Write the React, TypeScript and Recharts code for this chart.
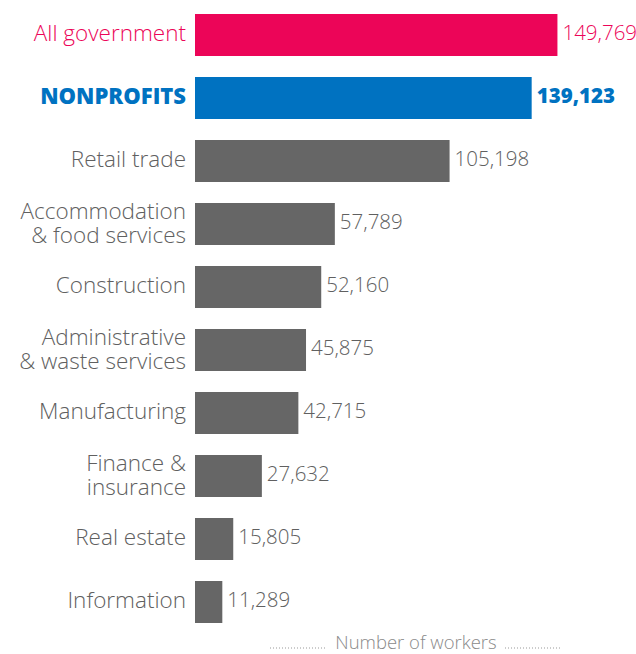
import { Bar, BarChart, Cell, LabelList, XAxis, YAxis } from "recharts";

const categories = [
  "All government",
  "NONPROFITS",
  "Retail trade",
  "Accommodation\n& food services",
  "Construction",
  "Administrative\n& waste services",
  "Manufacturing",
  "Finance &\ninsurance",
  "Real estate",
  "Information",
];

const workers = [149769, 139123, 105198, 57789, 52160, 45875, 42715, 27632, 15805, 11289];

const xDomain = [0, 150000];

const pink = "#ec0558";
const blue = "#0072c1";
const grey = "#666666";
const labelGrey = "#606060";
const catFont = "'Open Sans', 'Noto Sans', sans-serif";
const numFont = "'Open Sans', 'Noto Sans', sans-serif";

const data = categories.map((name, i) => ({ name, value: workers[i] }));

function rowColor(i: number) {
  if (i === 0) return pink;
  if (i === 1) return blue;
  return grey;
}

function CategoryTick(props: any) {
  const { x, y, payload, index } = props;
  const lines = String(payload.value).split("\n");
  const color = index === 0 ? pink : index === 1 ? blue : labelGrey;
  const bold = index === 1;
  if (lines.length === 1) {
    return (
      <text
        x={x - 1}
        y={y + 6.5}
        textAnchor="end"
        fill={color}
        fontFamily={catFont}
        fontSize={bold ? 22 : 22.5}
        fontWeight={bold ? 800 : 300}
      >
        {lines[0]}
      </text>
    );
  }
  return (
    <text x={x - 1} y={y} textAnchor="end" fill={color} fontFamily={catFont} fontSize={22.5} fontWeight={300}>
      <tspan x={x - 1} dy={-5}>
        {lines[0]}
      </tspan>
      <tspan x={x - 1} dy={24}>
        {lines[1]}
      </tspan>
    </text>
  );
}

function ValueLabel(props: any) {
  const { x, y, width, height, value, index } = props;
  const color = index === 0 ? pink : index === 1 ? blue : labelGrey;
  return (
    <text
      x={x + width + 5}
      y={y + height / 2 + 5}
      fill={color}
      fontFamily={numFont}
      fontSize={20.5}
      fontWeight={index === 1 ? 800 : 300}
    >
      {Number(value).toLocaleString("en-US")}
    </text>
  );
}

function AxisCaption(props: any) {
  const { viewBox } = props;
  const base = viewBox.y + viewBox.height;
  const cx = 416;
  return (
    <g>
      <line x1={270} x2={327} y1={base - 6} y2={base - 6} stroke="#999" strokeWidth={1} strokeDasharray="1 2" />
      <text x={cx} y={base - 5.5} textAnchor="middle" fill="#8a8a8a" fontFamily={catFont} fontSize={18.5} fontWeight={300}>
        Number of workers
      </text>
      <line x1={505} x2={562} y1={base - 6} y2={base - 6} stroke="#999" strokeWidth={1} strokeDasharray="1 2" />
    </g>
  );
}

export default function App() {
  return (
    <div style={{ position: "absolute", left: 0, top: 0, width: 636, height: 654, background: "#fff" }}>
      <BarChart
        width={636}
        height={654}
        data={data}
        layout="vertical"
        margin={{ top: 3, right: 78, bottom: 0, left: 0 }}
      >
        <XAxis
          type="number"
          domain={xDomain}
          height={21}
          axisLine={false}
          tickLine={false}
          tick={false}
          label={<AxisCaption />}
        />
        <YAxis
          type="category"
          dataKey="name"
          width={195}
          axisLine={false}
          tickLine={false}
          interval={0}
          tick={<CategoryTick />}
        />
        <Bar dataKey="value" barSize={42} isAnimationActive={false}>
          {data.map((d, i) => (
            <Cell key={d.name} fill={rowColor(i)} />
          ))}
          <LabelList dataKey="value" content={<ValueLabel />} />
        </Bar>
      </BarChart>
    </div>
  );
}
